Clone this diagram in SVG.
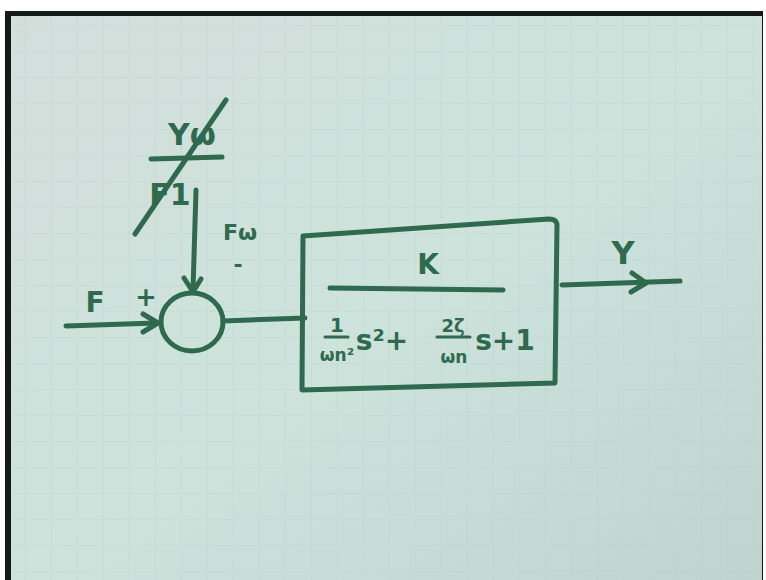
<svg xmlns="http://www.w3.org/2000/svg" width="766" height="580" viewBox="0 0 766 580">
<defs>
<style>
.ink{fill:none;stroke:#2f6a4e;stroke-width:5;stroke-linecap:round;stroke-linejoin:round}
.t{fill:#2f6a4e;font-family:"DejaVu Sans","Liberation Sans",sans-serif;font-weight:bold}
.grid{stroke:#b9cdc8;stroke-width:1;opacity:0.5}
</style>
<linearGradient id="bg" x1="0" y1="0" x2="1" y2="1">
<stop offset="0" stop-color="#d3dedb"/>
<stop offset="0.5" stop-color="#cde3dc"/>
<stop offset="1" stop-color="#bfd4cf"/>
</linearGradient>
<pattern id="gp" width="26" height="26" patternUnits="userSpaceOnUse">
<path d="M26 0V26M0 26H26" class="grid"/>
</pattern>
</defs>
<rect width="766" height="580" fill="#ffffff"/>
<rect x="5" y="11" width="758" height="569" fill="#141a18"/>
<rect x="11" y="16" width="751" height="564" fill="url(#bg)"/>
<rect x="11" y="16" width="751" height="564" fill="url(#gp)"/>

<g id="connectors">
<path class="ink" d="M66 326 L156 323"/>
<path class="ink" d="M143 314 L158 323 L143 332"/>
<path class="ink" d="M196 190 L193 290"/>
<path class="ink" d="M184 278 L193 292 L201 279"/>
<path class="ink" d="M223 321 L305 318"/>
<path class="ink" d="M562 285 L680 281"/>
<path class="ink" d="M632 273 L646 283 L631 292"/>
</g>

<g id="sum">
<ellipse class="ink" cx="192" cy="322" rx="31" ry="29"/>
<text class="t" x="95" y="312" font-size="28" text-anchor="middle">F</text>
<text class="t" x="146" y="306" font-size="26" text-anchor="middle">+</text>
<text class="t" x="240" y="240" font-size="22" text-anchor="middle">Fω</text>
<text class="t" x="238" y="272" font-size="22" text-anchor="middle">-</text>
</g>

<g id="ratio">
<text class="t" x="192" y="145" font-size="30" text-anchor="middle">Yω</text>
<path class="ink" d="M151 159 L222 157"/>
<text class="t" x="170" y="205" font-size="30" text-anchor="middle">F1</text>
<path class="ink" d="M226 100 L135 234"/>
</g>

<g id="block">
<path class="ink" d="M303 236 L302 390 L555 383 L557 224 Q556 219 549 219 L303 236"/>
<text class="t" x="428" y="274" font-size="28" text-anchor="middle">K</text>
<path class="ink" d="M330 288 L503 290"/>
<text class="t" x="337" y="332" font-size="20" text-anchor="middle">1</text>
<path class="ink" d="M325 337 L348 337" style="stroke-width:3"/>
<text class="t" x="337" y="361" font-size="17" text-anchor="middle">ωn²</text>
<text class="t" x="382" y="350" font-size="28" text-anchor="middle">s²+</text>
<text class="t" x="453" y="332" font-size="18" text-anchor="middle">2ζ</text>
<path class="ink" d="M437 337 L470 337" style="stroke-width:3"/>
<text class="t" x="454" y="363" font-size="17" text-anchor="middle">ωn</text>
<text class="t" x="505" y="350" font-size="28" text-anchor="middle">s+1</text>
</g>

<g id="output">
<text class="t" x="623" y="264" font-size="32" text-anchor="middle">Y</text>
</g>
</svg>
